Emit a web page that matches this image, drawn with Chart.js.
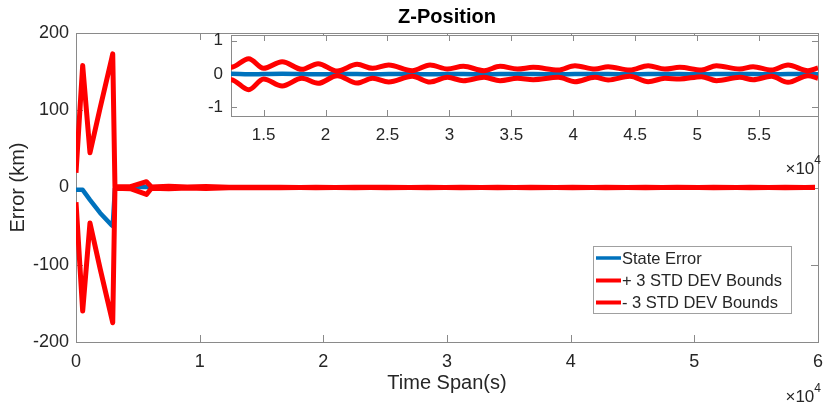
<!DOCTYPE html>
<html>
<head>
<meta charset="utf-8">
<script src="https://cdn.jsdelivr.net/npm/chart.js@4.4.0/dist/chart.umd.min.js"></script>
<style>
  body { margin: 0; background: #fff; }
  #wrap { position: relative; width: 826px; height: 405px; }
  #wrap canvas { position: absolute; left: 0; top: 0; }
</style>
</head>
<body>
<div id="wrap">
  <canvas id="mainChart" width="826" height="405"></canvas>
  <canvas id="insetChart" width="826" height="405"></canvas>
</div>
<script>
// time samples (s) and the three series
var timeSec = [0, 540, 1130, 1950, 2900, 2970, 3150, 4400, 5700, 6100, 7500, 9000, 10500,
  12370, 13800, 15000, 16500, 18100, 19400, 20950, 22550, 23800, 25100, 27000, 28440,
  29850, 31130, 32800, 34090, 35500, 36770, 38790, 40140, 41750, 42820, 44570, 46050,
  47400, 48600, 50350, 51560, 53440, 54520, 56000, 57340, 58950, 59760];

var stateError = [-3, -3, -16, -33, -49, -50, -1, 0, 1, 0, 0, 0, 0,
  0.01, -0.01, 0, 0.01, 0, -0.01, 0, 0, -0.01, 0, 0, -0.01,
  0, 0, -0.01, 0, 0, 0, -0.01, 0, 0, 0, -0.01, 0,
  0, 0, -0.01, 0, 0, 0, -0.01, 0, 0, -0.01];

var upperBound = [19, 158, 45, 103, 168, 173, 1, 1, 7.5, 0.8, 1.5, 0.8, 1.2,
  0.20, 0.46, 0.17, 0.37, 0.14, 0.31, 0.09, 0.29, 0.17, 0.27, 0.10, 0.27,
  0.15, 0.23, 0.10, 0.23, 0.15, 0.20, 0.12, 0.25, 0.15, 0.22, 0.12, 0.25,
  0.15, 0.20, 0.12, 0.25, 0.15, 0.22, 0.12, 0.27, 0.10, 0.18];

var lowerBound = [-19, -160, -46, -105, -170, -175, -1, -1.5, -9, -1, -1.5, -0.8, -1.2,
  -0.17, -0.47, -0.15, -0.36, -0.13, -0.28, -0.05, -0.27, -0.13, -0.24, -0.07, -0.24,
  -0.10, -0.20, -0.10, -0.20, -0.13, -0.17, -0.10, -0.23, -0.10, -0.18, -0.07, -0.23,
  -0.13, -0.15, -0.08, -0.20, -0.10, -0.17, -0.07, -0.25, -0.05, -0.13];

var seriesNames = ['State Error', '+ 3 STD DEV Bounds', '- 3 STD DEV Bounds'];
var seriesColors = ['#0072BD', '#FF0000', '#FF0000'];

var mainXTicks = [0, 10000, 20000, 30000, 40000, 50000, 60000];
var mainYTicks = [-200, -100, 0, 100, 200];
var insetXTicks = [15000, 20000, 25000, 30000, 35000, 40000, 45000, 50000, 55000];
var insetYTicks = [-1, 0, 1];

var textColor = '#262626';
var axisColor = '#8a8a8a';
Chart.defaults.font.family = '"Liberation Sans", Arial, Helvetica, sans-serif';
Chart.defaults.color = textColor;

function pts(vals) {
  return timeSec.map(function(t, i) { return { x: t, y: vals[i] }; });
}

function makeDatasets(smooth) {
  var vals = [stateError, upperBound, lowerBound];
  return vals.map(function(v, i) {
    return {
      label: seriesNames[i],
      data: pts(v),
      borderColor: seriesColors[i],
      borderWidth: i === 0 ? 4.5 : 5,
      pointRadius: 0,
      borderJoinStyle: 'round',
      cubicInterpolationMode: smooth ? 'monotone' : 'default',
      tension: 0,
      clip: 0,
      order: i === 0 ? 3 : 3 - i
    };
  });
}

// draw axis box and inward tick marks like matlab
var boxTicks = {
  id: 'boxTicks',
  beforeDraw: function(chart, args, opts) {
    if (!opts.fill) return;
    var a = chart.chartArea, ctx = chart.ctx;
    ctx.save();
    ctx.fillStyle = '#fff';
    ctx.fillRect(a.left, a.top, a.right - a.left, a.bottom - a.top);
    ctx.restore();
  },
  beforeDatasetsDraw: function(chart, args, opts) {
    var ctx = chart.ctx, a = chart.chartArea;
    var xs = chart.scales.x, ys = chart.scales.y, len = opts.len;
    ctx.save();
    ctx.strokeStyle = axisColor;
    ctx.lineWidth = 1;
    ctx.beginPath();
    xs.ticks.forEach(function(t) {
      var px = Math.round(xs.getPixelForValue(t.value)) + 0.5;
      ctx.moveTo(px, a.bottom); ctx.lineTo(px, a.bottom - len);
      ctx.moveTo(px, a.top); ctx.lineTo(px, a.top + len);
    });
    ys.ticks.forEach(function(t) {
      var py = Math.round(ys.getPixelForValue(t.value)) + 0.5;
      ctx.moveTo(a.left, py); ctx.lineTo(a.left + len, py);
      ctx.moveTo(a.right, py); ctx.lineTo(a.right - len, py);
    });
    ctx.stroke();
    ctx.strokeRect(Math.round(a.left) + 0.5, Math.round(a.top) + 0.5,
      Math.round(a.right - a.left), Math.round(a.bottom - a.top));
    ctx.restore();
  }
};

// x10^4 exponent label under the right end of the x axis
function drawExponent(ctx, right, y, big, small) {
  ctx.save();
  ctx.fillStyle = textColor;
  ctx.textBaseline = 'middle';
  ctx.font = small + 'px "Liberation Sans", Arial, sans-serif';
  var w4 = ctx.measureText('4').width;
  ctx.textAlign = 'left';
  ctx.fillText('4', right - w4, y - 8);
  ctx.font = big + 'px "Liberation Sans", Arial, sans-serif';
  ctx.textAlign = 'right';
  ctx.fillText('\u00d710', right - w4, y);
  ctx.restore();
}

var mainDecor = {
  id: 'mainDecor',
  afterDraw: function(chart) {
    var ctx = chart.ctx, a = chart.chartArea;
    ctx.save();
    // title
    ctx.fillStyle = '#000';
    ctx.font = 'bold 20px "Liberation Sans", Arial, sans-serif';
    ctx.textAlign = 'center';
    ctx.textBaseline = 'middle';
    ctx.fillText('Z-Position', (a.left + a.right) / 2, 17);

    // legend
    var bx = 593, by = 246, bw = 198, bh = 67;
    ctx.fillStyle = '#fff';
    ctx.fillRect(bx, by, bw, bh);
    ctx.strokeStyle = '#a0a0a0';
    ctx.lineWidth = 1;
    ctx.strokeRect(bx + 0.5, by + 0.5, bw, bh);
    var rows = [258, 280.5, 302.5];
    ctx.font = '16.5px "Liberation Sans", Arial, sans-serif';
    ctx.textAlign = 'left';
    chart.data.datasets.forEach(function(ds, i) {
      ctx.strokeStyle = ds.borderColor;
      ctx.lineWidth = i === 0 ? 3.5 : 4;
      ctx.beginPath();
      ctx.moveTo(596, rows[i]);
      ctx.lineTo(621, rows[i]);
      ctx.stroke();
      ctx.fillStyle = textColor;
      ctx.fillText(ds.label, 622, rows[i] + 1);
    });
    ctx.restore();
    drawExponent(ctx, 821, 397, 17, 12);
  }
};

var insetDecor = {
  id: 'insetDecor',
  afterDraw: function(chart) {
    drawExponent(chart.ctx, 821, 169, 17, 12);
  }
};

new Chart(document.getElementById('mainChart'), {
  type: 'line',
  data: { datasets: makeDatasets(false) },
  plugins: [boxTicks, mainDecor],
  options: {
    responsive: false,
    animation: false,
    devicePixelRatio: 1,
    layout: { padding: { left: 0, right: 8, top: 33, bottom: 0 } },
    plugins: {
      legend: { display: false },
      tooltip: { enabled: false },
      boxTicks: { len: 7 }
    },
    scales: {
      x: {
        type: 'linear', min: 0, max: 60000,
        grid: { display: false, drawTicks: false },
        border: { display: false },
        ticks: {
          padding: 9, autoSkip: false, maxRotation: 0, font: { size: 18 },
          callback: function(v) { return v / 1e4; }
        },
        title: { display: true, text: 'Time Span(s)', font: { size: 20 }, padding: { top: 0, bottom: 10 } },
        afterBuildTicks: function(s) { s.ticks = mainXTicks.map(function(v) { return { value: v }; }); },
        afterFit: function(s) { s.height = 63; s.paddingLeft = 0; s.paddingRight = 0; }
      },
      y: {
        type: 'linear', min: -200, max: 200,
        grid: { display: false, drawTicks: false },
        border: { display: false },
        ticks: { padding: 7, font: { size: 18 } },
        title: { display: true, text: 'Error (km)', font: { size: 20 }, padding: { top: 6, bottom: 0 } },
        afterBuildTicks: function(s) { s.ticks = mainYTicks.map(function(v) { return { value: v }; }); },
        afterFit: function(s) { s.width = 76; }
      }
    }
  }
});

new Chart(document.getElementById('insetChart'), {
  type: 'line',
  data: { datasets: makeDatasets(true) },
  plugins: [boxTicks, insetDecor],
  options: {
    responsive: false,
    animation: false,
    devicePixelRatio: 1,
    layout: { padding: { left: 191, right: 8, top: 35, bottom: 0 } },
    plugins: {
      legend: { display: false },
      tooltip: { enabled: false },
      boxTicks: { len: 6, fill: true }
    },
    scales: {
      x: {
        type: 'linear', min: 12370, max: 59760,
        grid: { display: false, drawTicks: false },
        border: { display: false },
        ticks: {
          padding: 9, autoSkip: false, maxRotation: 0, font: { size: 17 },
          callback: function(v) { return v / 1e4; }
        },
        afterBuildTicks: function(s) { s.ticks = insetXTicks.map(function(v) { return { value: v }; }); },
        afterFit: function(s) { s.height = 289; }
      },
      y: {
        type: 'linear', min: -1.26, max: 1.17,
        grid: { display: false, drawTicks: false },
        border: { display: false },
        ticks: { padding: 8, font: { size: 17 } },
        afterBuildTicks: function(s) { s.ticks = insetYTicks.map(function(v) { return { value: v }; }); },
        afterFit: function(s) { s.width = 40; }
      }
    }
  }
});
</script>
</body>
</html>
